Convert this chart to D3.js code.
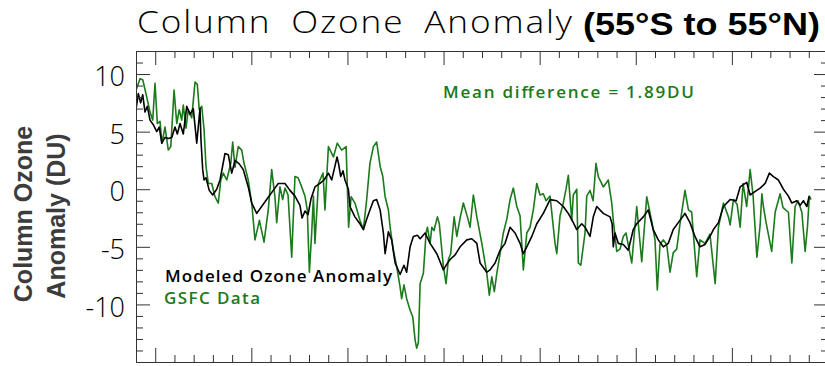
<!DOCTYPE html>
<html>
<head>
<meta charset="utf-8">
<script src="https://cdn.jsdelivr.net/npm/d3@7/dist/d3.min.js"></script>
<style>
  html, body { margin: 0; padding: 0; background: #fff; }
  svg { display: block; }
</style>
</head>
<body>
<svg id="chart" width="825" height="366"></svg>
<script>
// Modeled column ozone anomaly (DU), 55°S–55°N, by decimal year
const modelTimes = [
  1979.00, 1979.12, 1979.24, 1979.35, 1979.47, 1979.59, 1979.73, 1979.90, 1980.08, 1980.21,
  1980.34, 1980.51, 1980.68, 1980.86, 1981.03, 1981.15, 1981.29, 1981.46, 1981.64, 1981.81,
  1981.98, 1982.16, 1982.33, 1982.38, 1982.47, 1982.54, 1982.64, 1982.81, 1982.99, 1983.20,
  1983.37, 1983.63, 1983.80, 1983.98, 1984.15, 1984.37, 1984.58, 1984.84, 1985.02, 1985.28,
  1985.62, 1985.88, 1986.14, 1986.40, 1986.75, 1987.01, 1987.27, 1987.53, 1987.64, 1987.79,
  1987.95, 1988.11, 1988.31, 1988.57, 1988.78, 1989.01, 1989.18, 1989.35, 1989.46, 1989.54,
  1989.65, 1989.77, 1989.87, 1990.05, 1990.13, 1990.39, 1990.65, 1990.83, 1991.00, 1991.17,
  1991.35, 1991.52, 1991.70, 1991.87, 1991.96, 1992.13, 1992.30, 1992.48, 1992.74, 1992.94,
  1993.08, 1993.26, 1993.43, 1993.64, 1993.78, 1994.04, 1994.30, 1994.65, 1994.99, 1995.17,
  1995.34, 1995.60, 1995.86, 1996.21, 1996.47, 1996.73, 1996.90, 1997.25, 1997.42, 1997.68,
  1997.94, 1998.20, 1998.46, 1998.72, 1998.98, 1999.15, 1999.33, 1999.59, 1999.85, 2000.19,
  2000.54, 2000.89, 2001.23, 2001.49, 2001.75, 2001.93, 2002.19, 2002.36, 2002.62, 2002.79,
  2002.97, 2003.31, 2003.66, 2003.77, 2003.83, 2003.92, 2004.09, 2004.35, 2004.61, 2004.87,
  2005.05, 2005.39, 2005.65, 2005.91, 2006.17, 2006.43, 2006.69, 2006.95, 2007.21, 2007.56,
  2007.82, 2008.08, 2008.34, 2008.60, 2008.86, 2009.04, 2009.30, 2009.56, 2009.91, 2010.22,
  2010.43, 2010.77, 2010.95, 2011.12, 2011.47, 2011.73, 2011.95, 2012.16, 2012.42, 2012.68,
  2012.94, 2013.12, 2013.38, 2013.55, 2013.72, 2013.90, 2014.02
];
const modelAnomaly = [
   6.9,  8.3,  7.5,  8.2,  6.7,  7.2,  6.0,  5.6,  5.0,  5.4,
   4.0,  4.5,  4.4,  4.5,  5.4,  4.8,  5.7,  4.8,  7.2,  6.5,
   7.0,  4.0,  7.0,  4.3,  1.7,  0.8,  1.0, -0.1, -0.5,  0.0,
   0.8,  3.1,  3.0,  1.4,  2.5,  2.2,  1.7,  0.2, -1.2, -2.1,
  -1.3, -0.7, -0.1,  0.5,  0.5, -0.1, -0.6, -1.4, -2.5, -1.9,
  -2.2, -0.8,  0.2,  0.5,  0.8,  1.4,  0.8,  2.0,  2.8,  2.2,
   1.1,  1.6,  0.8,  0.0, -1.5, -2.4, -3.0, -3.5, -2.6, -1.8,
  -1.0, -0.9, -1.8, -3.8, -5.6, -3.7, -4.4, -6.4, -7.4, -6.6,
  -7.2, -5.0, -4.1, -4.0, -4.3, -3.8, -4.7, -5.6, -7.0, -6.5,
  -6.1, -5.7, -5.0, -4.4, -4.3, -4.7, -6.4, -7.2, -7.0, -6.4,
  -5.3, -4.7, -3.3, -3.8, -4.7, -5.6, -5.0, -4.1, -3.0, -2.1,
  -0.9, -1.0, -1.5, -2.1, -2.9, -3.5, -3.0, -3.3, -4.1, -2.4,
  -1.5, -2.1, -2.4, -3.0, -5.0, -3.8, -4.7, -4.8, -5.3, -3.5,
  -3.0, -2.4, -1.8, -3.5, -4.4, -5.0, -4.7, -3.5, -2.9, -2.1,
  -2.9, -4.1, -5.0, -4.8, -4.1, -3.5, -2.9, -1.5, -0.9, -1.0,
   0.2,  0.6, -0.5, -0.3,  0.1,  0.5,  1.4,  1.1,  0.8,  0.0,
  -0.6, -1.2, -1.0, -1.4, -1.0, -1.5, -0.6
];

// GSFC merged satellite data anomaly (DU), same band
const gsfcTimes = [
  1979.00, 1979.21, 1979.35, 1979.56, 1979.73, 1979.87, 1979.99, 1980.11, 1980.25, 1980.35,
  1980.51, 1980.68, 1980.81, 1980.98, 1981.12, 1981.25, 1981.38, 1981.46, 1981.60, 1981.72,
  1981.90, 1982.07, 1982.19, 1982.29, 1982.42, 1982.54, 1982.64, 1982.76, 1982.94, 1983.11,
  1983.28, 1983.41, 1983.54, 1983.72, 1983.93, 1984.03, 1984.15, 1984.32, 1984.50, 1984.62,
  1984.84, 1985.02, 1985.19, 1985.42, 1985.66, 1985.88, 1986.06, 1986.23, 1986.32, 1986.49,
  1986.63, 1986.75, 1986.91, 1987.10, 1987.27, 1987.43, 1987.62, 1987.79, 1987.91, 1988.02,
  1988.14, 1988.23, 1988.31, 1988.49, 1988.73, 1988.83, 1989.01, 1989.27, 1989.47, 1989.70,
  1989.93, 1990.06, 1990.19, 1990.39, 1990.65, 1990.83, 1991.00, 1991.17, 1991.35, 1991.52,
  1991.70, 1991.84, 1991.96, 1992.13, 1992.22, 1992.39, 1992.56, 1992.74, 1992.82, 1992.94,
  1993.08, 1993.26, 1993.40, 1993.52, 1993.60, 1993.69, 1993.78, 1993.95, 1994.09, 1994.16,
  1994.30, 1994.39, 1994.50, 1994.68, 1994.78, 1994.99, 1995.13, 1995.25, 1995.37, 1995.55,
  1995.69, 1995.86, 1996.03, 1996.24, 1996.38, 1996.55, 1996.73, 1996.99, 1997.16, 1997.25,
  1997.38, 1997.51, 1997.64, 1997.77, 1997.94, 1998.11, 1998.29, 1998.46, 1998.63, 1998.81,
  1998.98, 1999.15, 1999.33, 1999.50, 1999.67, 1999.85, 2000.02, 2000.19, 2000.33, 2000.54,
  2000.80, 2000.89, 2001.06, 2001.23, 2001.37, 2001.49, 2001.67, 2001.75, 2001.93, 2002.01,
  2002.14, 2002.36, 2002.45, 2002.62, 2002.78, 2002.93, 2003.05, 2003.31, 2003.57, 2003.75,
  2003.83, 2004.01, 2004.18, 2004.35, 2004.49, 2004.79, 2005.05, 2005.31, 2005.57, 2005.83,
  2006.00, 2006.12, 2006.26, 2006.43, 2006.61, 2006.78, 2006.95, 2007.13, 2007.30, 2007.56,
  2007.74, 2007.91, 2008.17, 2008.34, 2008.60, 2008.86, 2009.13, 2009.30, 2009.56, 2009.82,
  2009.91, 2010.08, 2010.27, 2010.43, 2010.58, 2010.77, 2010.95, 2011.10, 2011.30, 2011.47,
  2011.56, 2011.64, 2011.78, 2012.07, 2012.25, 2012.51, 2012.66, 2012.94, 2013.12, 2013.29,
  2013.44, 2013.64, 2013.81, 2013.93, 2014.03, 2014.12
];
const gsfcAnomaly = [
   8.6,  9.6,  9.5,  8.0,  6.7,  6.0,  9.2,  5.7,  5.9,  4.0,
   5.4,  3.4,  3.7,  8.6,  5.7,  6.9,  6.0,  7.3,  5.3,  6.9,
   6.2,  9.3,  9.1,  6.9,  7.2,  5.2,  2.0,  0.5,  0.5, -0.65,
  -1.2,  0.8,  1.4,  0.8,  2.25, 4.1,  1.9,  3.7,  3.4,  2.25,
   0.8, -1.2, -4.4, -2.7, -4.6, -1.8,  1.7, -0.7, -2.9,  0.2,
  -0.9,  0.1, -0.5, -5.9,  1.1,  1.0,  0.2, -0.6, -1.8, -7.2,
  -3.8, -0.6, -4.7,  0.5,  1.4, -1.8,  3.7,  2.8,  4.0,  3.4,
   3.7, -3.3, -0.65, -1.2, -2.7, -3.5, -0.9,  2.25, 3.7,  4.1,
   2.0,  1.1, -0.65, -1.8, -3.3, -5.3, -6.7, -8.5, -9.5, -8.3,
  -9.5, -10.5, -11.1, -13.1, -13.8, -13.3, -8.2, -7.3, -3.8, -3.3,
  -4.7, -3.3, -3.6, -2.4, -3.0, -6.7, -8.2, -6.1, -5.6, -2.4,
  -4.1, -2.5, -1.2, -2.4, -3.3, -0.5, -2.4, -4.7, -6.4, -7.3,
  -9.2, -7.6, -8.9, -7.3, -5.6, -3.8, -2.6, -0.9,  0.1, -1.5,
  -2.3, -7.0, -3.8, -3.3, -1.8,  0.5, -0.5, -0.4, -1.0, -0.6,
  -4.7, -5.6, -2.3, -1.2,  0.0,  1.2, -2.7, -0.5,  0.0, -6.4,
  -6.6, -3.8, -0.6, -0.1, -1.0,  2.25, 1.1,  0.2,  0.8, -1.2,
  -2.7, -5.4, -5.2, -4.1, -3.8, -6.4, -1.5, -6.3, -0.65, -2.8,
  -4.4, -8.75, -4.8, -4.4, -4.8, -7.2, -5.5, -5.2, -3.0, -0.1,
  -1.8, -2.0, -7.6, -4.4, -4.7, -3.9, -8.2, -3.3, -1.2, -2.4,
  -3.1, -0.9, -1.3, -3.3,  0.5, -1.5,  1.7, -0.5, -5.9, -3.1,
  -0.4, -1.5, -2.9, -5.4, -2.0, -0.4, -1.6, -2.0, -6.4, -1.5,
  -1.0, -2.0, -5.4, -3.3, -0.6, -0.9
];

// Axis definitions
const yearDomain = [1979, 2015];
const anomalyDomain = [-15, 12];
const yMajorTicks = [-10, -5, 0, 5, 10];
const yTickLabels = ["-10", "-5", "0", "5", "10"];

const titleMain = "Column Ozone Anomaly";
const titleRegion = "(55°S to 55°N)";
const yTitleLines = ["Column Ozone", "Anomaly (DU)"];
const seriesNames = ["Modeled Ozone Anomaly", "GSFC Data"];
const meanDifferenceNote = "Mean difference = 1.89DU";

const COLOR_MODEL = "#000000";
const COLOR_GSFC = "#1b7a1b";
const COLOR_AXIS = "#333333";

const plot = { left: 136, right: 828, top: 51, bottom: 362 };

const svg = d3.select("#chart");

const x = d3.scaleLinear().domain(yearDomain).range([plot.left, plot.right]);
const y = d3.scaleLinear().domain(anomalyDomain).range([plot.bottom, plot.top]);

const yearTicks = d3.range(yearDomain[0], yearDomain[1] + 1);
const majorYears = yearTicks.filter(v => v % 5 === 0);
const minorYears = yearTicks.filter(v => v % 5 !== 0);
const yAll = d3.range(anomalyDomain[0], anomalyDomain[1] + 1);
const yMinor = yAll.filter(v => v % 5 !== 0);

const MAJOR = 14, MINOR = 7;

// Series lines (clipped to the plot frame)
svg.append("clipPath").attr("id", "plot-clip")
  .append("rect")
  .attr("x", plot.left).attr("y", plot.top)
  .attr("width", plot.right - plot.left).attr("height", plot.bottom - plot.top);

const line = d3.line()
  .x(d => x(d[0]))
  .y(d => y(d[1]));

const gsfcData = gsfcTimes.map((t, i) => [t, gsfcAnomaly[i]]);
const modelData = modelTimes.map((t, i) => [t, modelAnomaly[i]]);

const lines = svg.append("g").attr("clip-path", "url(#plot-clip)");
lines.append("path").datum(gsfcData)
  .attr("d", line)
  .attr("fill", "none")
  .attr("stroke", COLOR_GSFC)
  .attr("stroke-width", 1.6)
  .attr("stroke-linejoin", "round");
lines.append("path").datum(modelData)
  .attr("d", line)
  .attr("fill", "none")
  .attr("stroke", COLOR_MODEL)
  .attr("stroke-width", 1.6)
  .attr("stroke-linejoin", "round");

// Frame axes with inward ticks
function styleAxis(g) {
  g.selectAll("path.domain").attr("stroke", COLOR_AXIS).attr("stroke-width", 1);
  g.selectAll(".tick line").attr("stroke", COLOR_AXIS).attr("stroke-width", 1);
}

function addAxis(axisFn, scale, values, size, transform) {
  const g = svg.append("g")
    .attr("transform", transform)
    .call(axisFn(scale).tickValues(values).tickSize(-size).tickSizeOuter(0).tickFormat(""));
  styleAxis(g);
  return g;
}

addAxis(d3.axisTop, x, minorYears, MINOR, `translate(0,${plot.top})`);
addAxis(d3.axisTop, x, majorYears, MAJOR, `translate(0,${plot.top})`);
addAxis(d3.axisBottom, x, minorYears, MINOR, `translate(0,${plot.bottom})`);
addAxis(d3.axisBottom, x, majorYears, MAJOR, `translate(0,${plot.bottom})`);
addAxis(d3.axisRight, y, yMinor, MINOR, `translate(${plot.right},0)`);
addAxis(d3.axisRight, y, yMajorTicks, MAJOR, `translate(${plot.right},0)`);
addAxis(d3.axisLeft, y, yMinor, MINOR, `translate(${plot.left},0)`);

const yLeftMajor = svg.append("g")
  .attr("transform", `translate(${plot.left},0)`)
  .call(d3.axisLeft(y).tickValues(yMajorTicks).tickSize(-MAJOR).tickSizeOuter(0)
    .tickPadding(11)
    .tickFormat(d => yTickLabels[yMajorTicks.indexOf(d)]));
styleAxis(yLeftMajor);
yLeftMajor.selectAll(".tick text")
  .attr("fill", "#000")
  .attr("dy", "0.36em")
  .attr("y", 2)
  .style("font-family", "'Open Sans', 'DejaVu Sans', sans-serif")
  .style("font-weight", 300)
  .style("font-size", "27px");

// Title: light face, glyphs widened a little, wide word gaps, letters spread to fill the span
const titleSpan = 435;
const titleScaleX = 1.1;
const title = svg.append("text")
  .attr("transform", `translate(137,33) scale(${titleScaleX},1)`)
  .style("font-family", "'Open Sans', 'DejaVu Sans', sans-serif")
  .style("font-weight", 300)
  .style("font-size", "32px")
  .style("word-spacing", "8px")
  .attr("fill", "#000")
  .text(titleMain);
{
  const natural = title.node().getComputedTextLength();
  const gaps = titleMain.length - 1;
  const spacing = Math.max(0, (titleSpan / titleScaleX - natural) / gaps);
  title.style("letter-spacing", `${spacing}px`);
}

svg.append("text")
  .attr("x", 583).attr("y", 35)
  .attr("textLength", 237).attr("lengthAdjust", "spacingAndGlyphs")
  .style("font-family", "'Liberation Sans', Arial, sans-serif")
  .style("font-weight", 700)
  .style("font-size", "31px")
  .attr("fill", "#000")
  .text(titleRegion);

// Y-axis title, two rotated lines
const yTitleX = [32, 65];
yTitleLines.forEach((txt, i) => {
  svg.append("text")
    .attr("transform", `translate(${yTitleX[i]},${214 + i * 2}) rotate(-90)`)
    .attr("text-anchor", "middle")
    .style("font-family", "'Liberation Sans', Arial, sans-serif")
    .style("font-weight", 700)
    .style("font-size", "25px")
    .attr("fill", "#3c3c3c")
    .text(txt);
});

// Legend and annotation
const legendFont = "'Open Sans', 'DejaVu Sans', sans-serif";
function note(txt, xPos, yPos, len, color) {
  svg.append("text")
    .attr("x", xPos).attr("y", yPos)
    .attr("textLength", len).attr("lengthAdjust", "spacing")
    .style("font-family", legendFont).style("font-weight", 600).style("font-size", "17px")
    .attr("fill", color)
    .text(txt);
}
note(seriesNames[0], 165, 281.5, 227, COLOR_MODEL);
note(seriesNames[1], 164, 304, 96, COLOR_GSFC);
note(meanDifferenceNote, 443, 97.5, 251, COLOR_GSFC);
</script>
</body>
</html>
